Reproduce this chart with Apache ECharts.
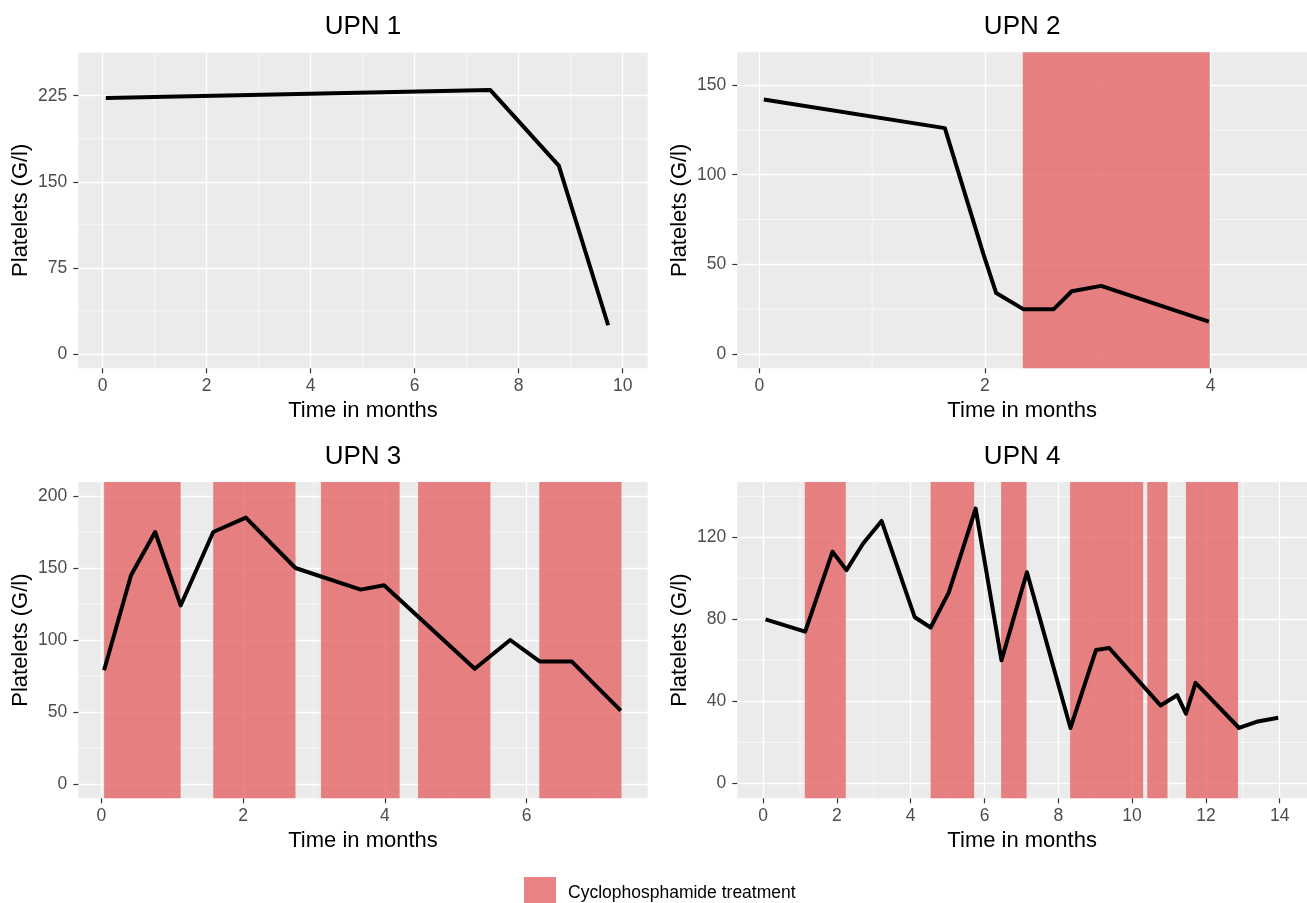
<!DOCTYPE html>
<html>
<head>
<meta charset="utf-8">
<style>html,body{margin:0;padding:0;background:#fff}#c{width:1307px;height:903px}</style>
<script src="https://cdn.jsdelivr.net/npm/echarts@6/dist/echarts.min.js"></script>
</head>
<body>
<div id="c"></div>
<script>
// ---------- data ----------
const panelTitles = ['UPN 1', 'UPN 2', 'UPN 3', 'UPN 4'];
const xAxisTitle = 'Time in months';
const yAxisTitle = 'Platelets (G/l)';
const legendLabel = 'Cyclophosphamide treatment';

const upn1Time = [0.06, 7.45, 8.77, 9.72];
const upn1Platelets = [223, 230, 164, 25];
const upn1Treatment = [];

const upn2Time = [0.04, 1.645, 1.99, 2.10, 2.34, 2.61, 2.77, 3.03, 3.985];
const upn2Platelets = [142, 126, 55, 34, 25, 25, 35, 38, 18];
const upn2Treatment = [[2.336, 3.993]];

const upn3Time = [0.04, 0.42, 0.76, 1.12, 1.58, 2.04, 2.74, 3.66, 3.99, 5.27, 5.77, 6.19, 6.64, 7.33];
const upn3Platelets = [79, 145, 175, 124, 175, 185, 150, 135, 138, 80, 100, 85, 85, 51];
const upn3Treatment = [[0.04, 1.12], [1.58, 2.74], [3.10, 4.21], [4.47, 5.49], [6.18, 7.34]];

const upn4Time = [0.065, 1.14, 1.88, 2.26, 2.71, 3.21, 4.11, 4.54, 5.03, 5.76, 6.46, 7.15, 8.33, 9.02, 9.38, 10.77, 11.22, 11.46, 11.72, 12.9, 13.37, 13.96];
const upn4Platelets = [80, 74, 113, 104, 117, 128, 81, 76, 93, 134, 60, 103, 27, 65, 66, 38, 43, 34, 49, 27, 30, 32];
const upn4Treatment = [[1.13, 2.24], [4.54, 5.72], [6.45, 7.14], [8.32, 10.30], [10.41, 10.96], [11.46, 12.87]];

const upn1XTicks = [0, 2, 4, 6, 8, 10];
const upn1YTicks = [0, 75, 150, 225];
const upn1XMinor = [1, 3, 5, 7, 9];
const upn1YMinor = [37.5, 112.5, 187.5, 262.5];

const upn2XTicks = [0, 2, 4];
const upn2YTicks = [0, 50, 100, 150];
const upn2XMinor = [1, 3];
const upn2YMinor = [25, 75, 125];

const upn3XTicks = [0, 2, 4, 6];
const upn3YTicks = [0, 50, 100, 150, 200];
const upn3XMinor = [1, 3, 5, 7];
const upn3YMinor = [25, 75, 125, 175];

const upn4XTicks = [0, 2, 4, 6, 8, 10, 12, 14];
const upn4YTicks = [0, 40, 80, 120];
const upn4XMinor = [1, 3, 5, 7, 9, 11, 13];
const upn4YMinor = [20, 60, 100, 140];

const upn1XRange = [-0.47, 10.48], upn1YRange = [-12.5, 262.8];
const upn2XRange = [-0.195, 4.855], upn2YRange = [-8.0, 168.3];
const upn3XRange = [-0.324, 7.71], upn3YRange = [-9.9, 209.7];
const upn4XRange = [-0.70, 14.74], upn4YRange = [-7.3, 147];

// ---------- layout / style ----------
const FONT = '"Liberation Sans", Arial, Helvetica, sans-serif';
const BAND = 'rgba(229,101,101,0.8)';
const boxes = [
  {left: 78.3, top: 52.3, width: 569.4, height: 316},
  {left: 737.3, top: 52.3, width: 569.7, height: 316},
  {left: 78.3, top: 482, width: 569.4, height: 316.3},
  {left: 737.3, top: 482, width: 569.7, height: 316.3}
];
const titleTops = [14, 14, 444, 444];

const panels = [
  {t: upn1Time, v: upn1Platelets, bands: upn1Treatment, xt: upn1XTicks, yt: upn1YTicks, xm: upn1XMinor, ym: upn1YMinor, xr: upn1XRange, yr: upn1YRange},
  {t: upn2Time, v: upn2Platelets, bands: upn2Treatment, xt: upn2XTicks, yt: upn2YTicks, xm: upn2XMinor, ym: upn2YMinor, xr: upn2XRange, yr: upn2YRange},
  {t: upn3Time, v: upn3Platelets, bands: upn3Treatment, xt: upn3XTicks, yt: upn3YTicks, xm: upn3XMinor, ym: upn3YMinor, xr: upn3XRange, yr: upn3YRange},
  {t: upn4Time, v: upn4Platelets, bands: upn4Treatment, xt: upn4XTicks, yt: upn4YTicks, xm: upn4XMinor, ym: upn4YMinor, xr: upn4XRange, yr: upn4YRange}
];

const grid = [], xAxis = [], yAxis = [], series = [], title = [];

panels.forEach((p, i) => {
  const b = boxes[i];
  grid.push({left: b.left, top: b.top, width: b.width, height: b.height, show: true,
    backgroundColor: '#EBEBEB', borderWidth: 0, containLabel: false});
  title.push({text: panelTitles[i], left: b.left + b.width / 2, top: titleTops[i], textAlign: 'center', padding: 0,
    textStyle: {fontFamily: FONT, fontSize: 26, fontWeight: 'normal', color: '#000'}});
  xAxis.push({type: 'value', gridIndex: i, min: p.xr[0], max: p.xr[1], position: 'bottom',
    name: xAxisTitle, nameLocation: 'middle', nameGap: 32,
    nameTextStyle: {fontFamily: FONT, fontSize: 22, color: '#000'},
    axisLine: {show: false, onZero: false},
    axisTick: {show: true, length: 5, lineStyle: {color: '#333', width: 1.2}, customValues: p.xt},
    axisLabel: {customValues: p.xt, fontFamily: FONT, fontSize: 17.5, color: '#4D4D4D', margin: 9},
    splitLine: {show: true, lineStyle: {color: '#fff', width: 1.3}}
  });
  yAxis.push({type: 'value', gridIndex: i, min: p.yr[0], max: p.yr[1], position: 'left',
    name: yAxisTitle, nameLocation: 'middle', nameGap: 46,
    nameTextStyle: {fontFamily: FONT, fontSize: 22, color: '#000'},
    axisLine: {show: false, onZero: false},
    axisTick: {show: true, length: 5, lineStyle: {color: '#333', width: 1.2}, customValues: p.yt},
    axisLabel: {customValues: p.yt, fontFamily: FONT, fontSize: 17.5, color: '#4D4D4D', margin: 11},
    splitLine: {show: true, lineStyle: {color: '#fff', width: 1.3}}
  });
  // minor grid lines
  const minorData = p.xm.map(x => [x, 0, 0]).concat(p.ym.map(y => [0, y, 1]));
  series.push({type: 'custom', name: 'minor-grid-' + i, xAxisIndex: i, yAxisIndex: i, z: 1, silent: true,
    data: minorData,
    renderItem: (params, api) => {
      const cs = params.coordSys;
      const pt = api.coord([api.value(0), api.value(1)]);
      const vertical = api.value(2) === 0;
      return {type: 'line',
        shape: vertical ? {x1: pt[0], y1: cs.y, x2: pt[0], y2: cs.y + cs.height}
                        : {x1: cs.x, y1: pt[1], x2: cs.x + cs.width, y2: pt[1]},
        style: {stroke: '#fff', lineWidth: 0.6}};
    }
  });
  // treatment bands
  series.push({type: 'custom', name: legendLabel, xAxisIndex: i, yAxisIndex: i, z: 2, silent: true,
    itemStyle: {color: BAND},
    encode: {x: [0, 1]},
    data: p.bands,
    renderItem: (params, api) => {
      const cs = params.coordSys;
      const a = api.coord([api.value(0), 0]);
      const c = api.coord([api.value(1), 0]);
      return {type: 'rect', shape: {x: a[0], y: cs.y, width: c[0] - a[0], height: cs.height},
        style: {fill: BAND}};
    }
  });
  // platelet line
  series.push({type: 'line', name: panelTitles[i], xAxisIndex: i, yAxisIndex: i, z: 3, silent: true,
    data: p.t.map((t, k) => [t, p.v[k]]),
    symbol: 'none', showSymbol: false,
    lineStyle: {color: '#000', width: 4, cap: 'butt', join: 'round'}
  });
});

const chart = echarts.init(document.getElementById('c'), null, {renderer: 'canvas'});
chart.setOption({
  animation: false,
  backgroundColor: '#fff',
  textStyle: {fontFamily: FONT},
  title: title,
  grid: grid,
  xAxis: xAxis,
  yAxis: yAxis,
  legend: {
    data: [{name: legendLabel, icon: 'rect', itemStyle: {color: BAND}}],
    left: 524, top: 877, itemWidth: 32, itemHeight: 32, padding: 0,
    selectedMode: false,
    textStyle: {fontFamily: FONT, fontSize: 17.5, color: '#000', padding: [0, 0, 0, 7]}
  },
  series: series
});
</script>
</body>
</html>
